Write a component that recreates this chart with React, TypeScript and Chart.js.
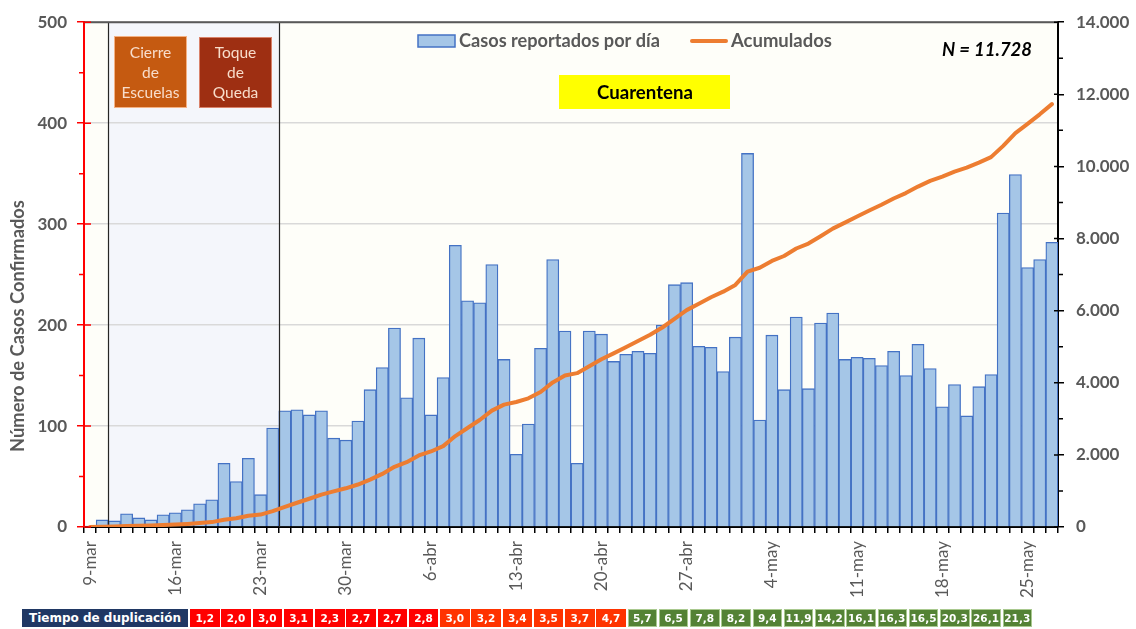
import React, { useEffect, useRef } from 'react';
import { Chart, registerables } from 'chart.js';

Chart.register(...registerables);

const categories = [
  '9-mar', '10-mar', '11-mar', '12-mar', '13-mar', '14-mar', '15-mar', '16-mar', '17-mar', '18-mar',
  '19-mar', '20-mar', '21-mar', '22-mar', '23-mar', '24-mar', '25-mar', '26-mar', '27-mar', '28-mar',
  '29-mar', '30-mar', '31-mar',
  '1-abr', '2-abr', '3-abr', '4-abr', '5-abr', '6-abr', '7-abr', '8-abr', '9-abr', '10-abr',
  '11-abr', '12-abr', '13-abr', '14-abr', '15-abr', '16-abr', '17-abr', '18-abr', '19-abr', '20-abr',
  '21-abr', '22-abr', '23-abr', '24-abr', '25-abr', '26-abr', '27-abr', '28-abr', '29-abr', '30-abr',
  '1-may', '2-may', '3-may', '4-may', '5-may', '6-may', '7-may', '8-may', '9-may', '10-may',
  '11-may', '12-may', '13-may', '14-may', '15-may', '16-may', '17-may', '18-may', '19-may', '20-may',
  '21-may', '22-may', '23-may', '24-may', '25-may', '26-may', '27-may',
];

const tickLabels = [
  '9-mar', '16-mar', '23-mar', '30-mar', '6-abr', '13-abr', '20-abr', '27-abr',
  '4-may', '11-may', '18-may', '25-may',
];

const dailyCases = [
  1, 7, 6, 13, 9, 7, 12, 14, 17, 23,
  27, 63, 45, 68, 32, 98, 115, 116, 111, 115,
  88, 86, 105,
  136, 158, 197, 128, 187, 111, 148, 279, 224, 222,
  260, 166, 72, 102, 177, 265, 194, 63, 194, 191,
  164, 171, 174, 172, 200, 240, 242, 179, 178, 154,
  188, 370, 106, 190, 136, 208, 137, 202, 212, 166,
  168, 167, 160, 174, 150, 181, 157, 119, 141, 110,
  139, 151, 311, 349, 257, 265, 282,
];

const cumulativeCases = [
  1, 8, 14, 27, 36, 43, 55, 69, 86, 109,
  136, 199, 244, 312, 344, 442, 557, 673, 784, 899,
  987, 1073, 1178,
  1314, 1472, 1669, 1797, 1984, 2095, 2243, 2522, 2746, 2968,
  3228, 3394, 3466, 3568, 3745, 4010, 4204, 4267, 4461, 4652,
  4816, 4987, 5161, 5333, 5533, 5773, 6015, 6194, 6372, 6526,
  6714, 7084, 7190, 7380, 7516, 7724, 7861, 8063, 8275, 8441,
  8609, 8776, 8936, 9110, 9260, 9441, 9598, 9717, 9858, 9968,
  10107, 10258, 10570, 10922, 11179, 11445, 11728,
];

const leftTicks = [0, 100, 200, 300, 400, 500];
const rightTicks = [0, 2000, 4000, 6000, 8000, 10000, 12000, 14000];

const doublingTimes = [
  '1,2', '2,0', '3,0', '3,1', '2,3', '2,7', '2,7', '2,8', '3,0', '3,2', '3,4', '3,5', '3,7', '4,7',
  '5,7', '6,5', '7,8', '8,2', '9,4', '11,9', '14,2', '16,1', '16,3', '16,5', '20,3', '26,1', '21,3',
];
const RED_CELLS = 8;
const ORANGE_CELLS = 6;

const SHADE_FROM = '11-mar';
const SHADE_TO = '24-mar';
const N_LABEL = 'N = 11.728';

const FONT = 'Lato, "Open Sans", sans-serif';

function fmtThousands(v: number): string {
  return String(v).replace(/\B(?=(\d{3})+(?!\d))/g, '.');
}

function fitText(
  ctx: CanvasRenderingContext2D,
  text: string,
  x: number,
  y: number,
  targetW: number,
  style: string,
  align: CanvasTextAlign,
) {
  ctx.font = `${style} 20px ${FONT}`;
  const w = ctx.measureText(text).width;
  const size = (20 * targetW) / w;
  ctx.font = `${style} ${size}px ${FONT}`;
  ctx.textAlign = align;
  ctx.textBaseline = 'middle';
  ctx.fillText(text, x, y);
  return size;
}

const decor = {
  id: 'decor',
  beforeDraw(chart: any) {
    const { ctx, chartArea: a, scales } = chart;
    const x = scales.x;
    const half = (x.getPixelForValue(1) - x.getPixelForValue(0)) / 2;
    ctx.save();
    ctx.fillStyle = '#FEFEF9';
    ctx.fillRect(a.left, a.top, a.right - a.left, a.bottom - a.top);
    const s0 = x.getPixelForValue(categories.indexOf(SHADE_FROM)) - half;
    const s1 = x.getPixelForValue(categories.indexOf(SHADE_TO)) + half;
    ctx.fillStyle = '#F4F6FB';
    ctx.fillRect(s0, a.top, s1 - s0, a.bottom - a.top);
    ctx.restore();
  },
  afterDatasetDraw(chart: any, args: any) {
    if (args.index !== 0) return;
    const { ctx, chartArea: a, scales } = chart;
    const x = scales.x;
    const half = (x.getPixelForValue(1) - x.getPixelForValue(0)) / 2;
    const s0 = Math.round(x.getPixelForValue(categories.indexOf(SHADE_FROM)) - half) + 0.5;
    const s1 = Math.round(x.getPixelForValue(categories.indexOf(SHADE_TO)) + half) + 0.5;
    ctx.save();
    ctx.strokeStyle = '#262626';
    ctx.lineWidth = 1.2;
    ctx.beginPath();
    ctx.moveTo(s0, a.top);
    ctx.lineTo(s0, a.bottom);
    ctx.moveTo(s1, a.top);
    ctx.lineTo(s1, a.bottom);
    ctx.stroke();
    ctx.restore();
  },
  afterDraw(chart: any) {
    const { ctx, chartArea: a, scales } = chart;
    const y = scales.y;
    const y1 = scales.y1;
    ctx.save();

    // top border line
    ctx.strokeStyle = '#595959';
    ctx.lineWidth = 2;
    ctx.beginPath();
    ctx.moveTo(a.left, a.top);
    ctx.lineTo(a.right, a.top);
    ctx.stroke();

    // left axis: inner parts of major ticks, minor ticks
    ctx.strokeStyle = '#FF0000';
    ctx.lineWidth = 1.5;
    ctx.beginPath();
    for (const v of leftTicks) {
      const py = y.getPixelForValue(v);
      ctx.moveTo(a.left, py);
      ctx.lineTo(a.left + 7, py);
    }
    for (let i = 0; i < leftTicks.length - 1; i++) {
      const py = y.getPixelForValue((leftTicks[i] + leftTicks[i + 1]) / 2);
      ctx.moveTo(a.left - 5, py);
      ctx.lineTo(a.left, py);
    }
    ctx.stroke();

    // right axis
    ctx.strokeStyle = '#000000';
    ctx.beginPath();
    for (const v of rightTicks) {
      const py = y1.getPixelForValue(v);
      ctx.moveTo(a.right - 4, py);
      ctx.lineTo(a.right, py);
    }
    for (let i = 0; i < rightTicks.length - 1; i++) {
      const py = y1.getPixelForValue((rightTicks[i] + rightTicks[i + 1]) / 2);
      ctx.moveTo(a.right, py);
      ctx.lineTo(a.right + 5, py);
    }
    ctx.stroke();

    // legend
    ctx.fillStyle = '#A5C6E7';
    ctx.fillRect(418, 35, 37, 12);
    ctx.strokeStyle = '#4472C4';
    ctx.lineWidth = 1.5;
    ctx.strokeRect(418, 35, 37, 12);
    ctx.fillStyle = '#595959';
    fitText(ctx, 'Casos reportados por día', 459, 41, 201, 'bold', 'left');
    ctx.strokeStyle = '#ED7D31';
    ctx.lineWidth = 4;
    ctx.lineCap = 'round';
    ctx.beginPath();
    ctx.moveTo(692, 41);
    ctx.lineTo(726, 41);
    ctx.stroke();
    ctx.fillStyle = '#595959';
    fitText(ctx, 'Acumulados', 731, 41, 101, 'bold', 'left');

    // N label
    ctx.fillStyle = '#000000';
    fitText(ctx, N_LABEL, 1032, 50, 90, 'italic bold', 'right');

    // event boxes
    ctx.fillStyle = '#C55A11';
    ctx.fillRect(114, 36, 73, 72);
    ctx.strokeStyle = '#F4B183';
    ctx.lineWidth = 1;
    ctx.strokeRect(114.5, 36.5, 72, 71);
    ctx.fillStyle = '#9E2F12';
    ctx.fillRect(199, 37, 73, 71);
    ctx.strokeStyle = '#D9826A';
    ctx.strokeRect(199.5, 37.5, 72, 70);

    ctx.fillStyle = '#F8DDCB';
    ctx.font = `20px ${FONT}`;
    const wE = ctx.measureText('Escuelas').width;
    const bs = (20 * 58) / wE;
    ctx.font = `${bs}px ${FONT}`;
    ctx.textAlign = 'center';
    ctx.textBaseline = 'middle';
    ctx.fillText('Cierre', 150.5, 53);
    ctx.fillText('de', 150.5, 73);
    ctx.fillText('Escuelas', 150.5, 93);
    ctx.fillText('Toque', 235.5, 53);
    ctx.fillText('de', 235.5, 73);
    ctx.fillText('Queda', 235.5, 93);

    // quarantine box
    ctx.fillStyle = '#FFFF00';
    ctx.fillRect(559, 75, 171, 34);
    ctx.fillStyle = '#000000';
    fitText(ctx, 'Cuarentena', 645, 92.5, 96, 'bold', 'center');

    // left axis title
    ctx.save();
    ctx.translate(18, 326);
    ctx.rotate(-Math.PI / 2);
    ctx.fillStyle = '#595959';
    fitText(ctx, 'Número de Casos Confirmados', 0, 0, 252, 'bold', 'center');
    ctx.restore();

    ctx.restore();
  },
};

export default function App() {
  const ref = useRef<HTMLCanvasElement | null>(null);

  useEffect(() => {
    if (!ref.current) return;
    const shown = new Set(tickLabels);
    const chart = new Chart(ref.current, {
      data: {
        labels: categories,
        datasets: [
          {
            type: 'bar',
            label: 'Casos reportados por día',
            data: dailyCases,
            backgroundColor: '#A5C6E7',
            borderColor: '#4472C4',
            borderWidth: 1.3,
            categoryPercentage: 1,
            barPercentage: 1,
            yAxisID: 'y',
            order: 2,
          },
          {
            type: 'line',
            label: 'Acumulados',
            data: cumulativeCases,
            borderColor: '#ED7D31',
            borderWidth: 4,
            pointRadius: 0,
            tension: 0,
            yAxisID: 'y1',
            order: 1,
            borderCapStyle: 'round',
            borderJoinStyle: 'round',
          },
        ],
      } as any,
      options: {
        responsive: false,
        animation: false,
        devicePixelRatio: 1,
        layout: { padding: { top: 17, left: 0, right: 0, bottom: 0 } },
        plugins: { legend: { display: false }, tooltip: { enabled: false } },
        scales: {
          x: {
            offset: true,
            grid: { offset: true, drawOnChartArea: false, tickLength: 6, color: '#000000', lineWidth: 1.5 },
            border: { color: '#000000', width: 2 },
            ticks: {
              autoSkip: false,
              maxRotation: 90,
              minRotation: 90,
              padding: 8,
              color: '#595959',
              font: { family: FONT, size: 17 },
              callback: (_v: any, i: number) => (shown.has(categories[i]) ? categories[i] : ''),
            },
            afterFit: (s: any) => {
              s.height = 102;
            },
          },
          y: {
            position: 'left',
            min: 0,
            max: 500,
            ticks: {
              stepSize: 100,
              padding: 10,
              color: '#595959',
              font: { family: FONT, size: 17, weight: 'bold' },
            },
            grid: { color: '#D9D9D9', lineWidth: 1.5, tickColor: '#FF0000', tickLength: 7 },
            border: { color: '#FF0000', width: 2 },
            afterFit: (s: any) => {
              s.width = 84;
            },
          },
          y1: {
            position: 'right',
            min: 0,
            max: 14000,
            ticks: {
              stepSize: 2000,
              padding: 12,
              color: '#595959',
              font: { family: FONT, size: 17, weight: 'bold' },
              callback: (v: any) => fmtThousands(Number(v)),
            },
            grid: { drawOnChartArea: false, tickColor: '#000000', tickLength: 6, lineWidth: 1.5 },
            border: { color: '#000000', width: 2 },
            afterFit: (s: any) => {
              s.width = 78;
            },
          },
        },
      } as any,
      plugins: [decor],
    });
    return () => chart.destroy();
  }, []);

  const cellColor = (i: number) =>
    i < RED_CELLS ? '#FF0000' : i < RED_CELLS + ORANGE_CELLS ? '#FF3300' : '#548235';

  return (
    <div style={{ position: 'absolute', left: 0, top: 0, width: 1136, height: 629, background: '#FFFFFF', overflow: 'hidden' }}>
      <canvas ref={ref} width={1136} height={629} style={{ position: 'absolute', left: 0, top: 0, width: 1136, height: 629 }} />
      <div
        style={{
          position: 'absolute',
          left: 22,
          top: 609,
          width: 166,
          height: 18,
          background: '#203864',
          color: '#FFFFFF',
          font: 'bold 12px "DejaVu Sans", sans-serif',
          lineHeight: '18px',
          textAlign: 'center',
          whiteSpace: 'nowrap',
        }}
      >
        Tiempo de duplicación
      </div>
      {doublingTimes.map((t, i) => (
        <div
          key={i}
          style={{
            position: 'absolute',
            left: 190 + i * 31.25,
            top: 609,
            width: 29.5,
            height: 18,
            boxSizing: 'border-box',
            background: cellColor(i),
            border: i >= RED_CELLS + ORANGE_CELLS ? '1px solid #A9C98F' : 'none',
            color: '#FFFFFF',
            font: 'bold 10.5px "DejaVu Sans", sans-serif',
            lineHeight: i >= RED_CELLS + ORANGE_CELLS ? '16px' : '18px',
            textAlign: 'center',
            whiteSpace: 'nowrap',
          }}
        >
          {t}
        </div>
      ))}
    </div>
  );
}
